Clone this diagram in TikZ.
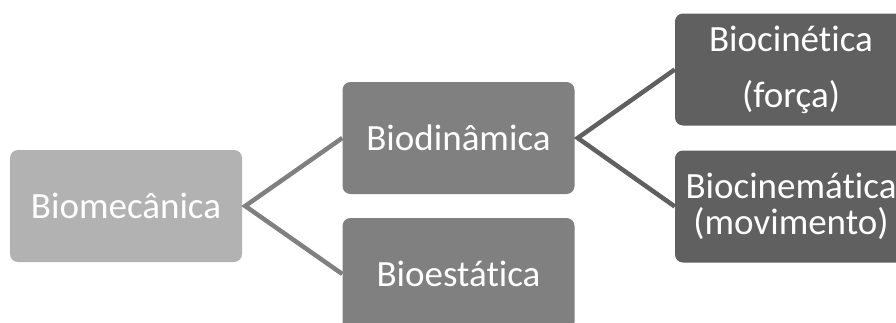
\documentclass[tikz,border=0pt]{standalone}
\usepackage{fontspec}
\setmainfont[Ligatures={NoCommon}]{Carlito}
\definecolor{lgray}{RGB}{178,178,178}
\definecolor{mgray}{RGB}{128,128,128}
\definecolor{dgray}{RGB}{96,96,96}
\begin{document}
\begin{tikzpicture}[x=1pt,y=-1pt,
  boxnode/.style={rectangle, rounded corners=8pt, minimum width=232pt, minimum height=112pt, inner sep=0pt, text=white, align=center, font=\fontsize{37}{44}\selectfont},
  conn/.style={line width=4.5pt}]
\useasboundingbox (0,0) rectangle (896,322);
\clip (0,0) rectangle (896,322);
\node[boxnode, fill=lgray] (a) at (126,206) {Biomecânica};
\node[boxnode, fill=mgray] (b) at (458.5,138) {Biodinâmica};
\node[boxnode, fill=mgray] (c) at (458.5,274) {Bioestática};
\node[boxnode, fill=dgray] (d) at (791,69.5) {Biocinética\\[12pt](força)};
\node[boxnode, fill=dgray] (e) at (791,206.5) {Biocinemática\\[-8pt](movimento)};
\coordinate (a1) at ([xshift=3pt]a.east);
\coordinate (b1) at ([xshift=3pt]b.east);
\draw[conn, mgray] (b.west) -- (a1) -- (c.west);
\draw[conn, dgray] (d.west) -- (b1) -- (e.west);
\end{tikzpicture}
\end{document}
